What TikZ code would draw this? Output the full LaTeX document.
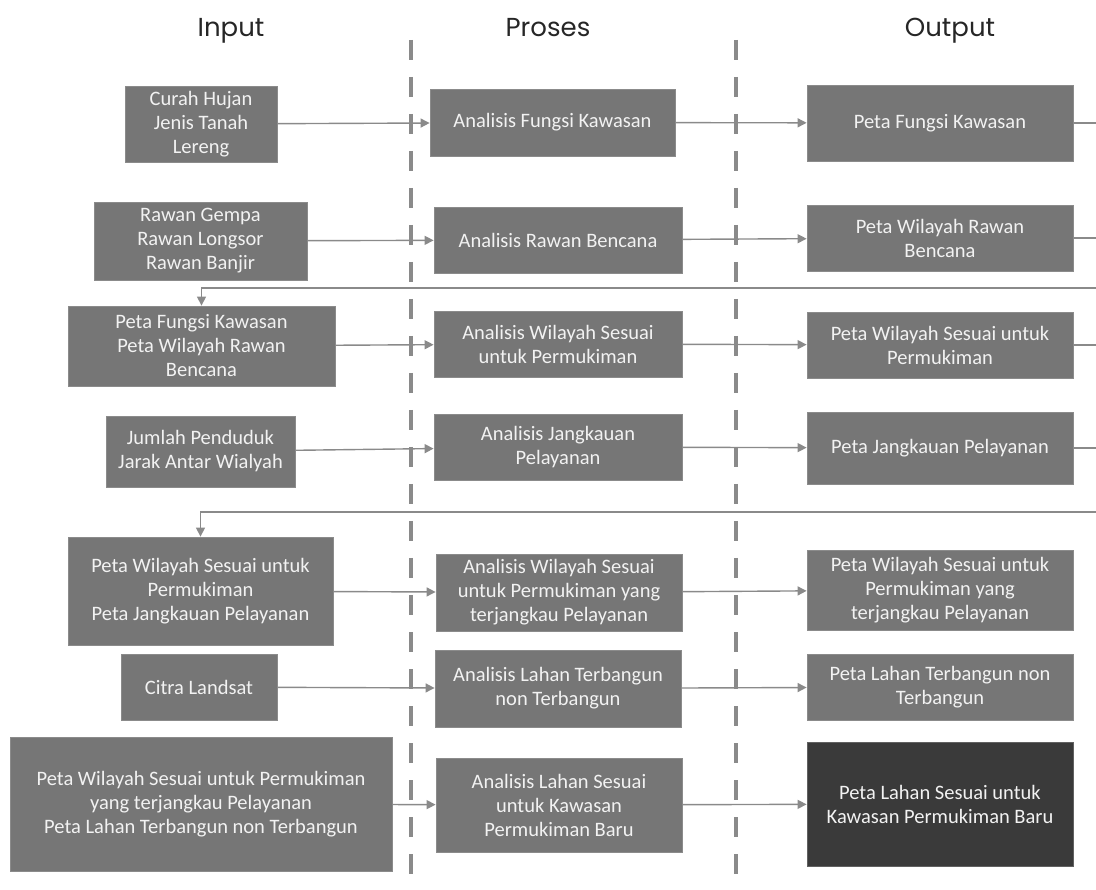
\documentclass[tikz,border=0pt]{standalone}
\usepackage{fontspec}
\setmainfont{Carlito}
\newfontfamily\headfont{Poppins}
\usetikzlibrary{arrows.meta}
\definecolor{boxgray}{RGB}{118,118,118}
\definecolor{boxdark}{RGB}{58,58,58}
\definecolor{linegray}{RGB}{138,138,138}
\definecolor{textwhite}{RGB}{242,242,242}
\tikzset{
  box/.style={fill=boxgray, draw=boxgray!85!white, line width=0.8pt, text=textwhite,
    align=center, inner sep=2pt, font=\fontsize{20.5}{24}\selectfont},
  darkbox/.style={box, fill=boxdark, draw=boxdark!80!white},
  flow/.style={draw=linegray, line width=1.4pt, -{Triangle[length=9pt,width=9pt]}},
  plain/.style={draw=linegray, line width=1.4pt},
  divider/.style={draw=linegray, line width=4pt, dash pattern=on 20pt off 17pt},
  head/.style={font=\headfont\fontsize{26}{30}\selectfont, text=black!85,
    text height=19pt, text depth=6pt}
}
\begin{document}
\begin{tikzpicture}[x=1pt,y=-1pt]
  \useasboundingbox (0,0) rectangle (1096,890);

  % column titles
  \node[head] (hin) at (231,30) {Input};
  \node[head] (hpro) at (548,30) {Proses};
  \node[head] (hout) at (950,30) {Output};

  % dashed separators
  \draw[divider] (411,40) -- (411,890);
  \draw[divider] (736,40) -- (736,890);

  % input column
  \node[box, minimum width=152pt, minimum height=76pt] (in1) at (201,124) {Curah Hujan\\Jenis Tanah\\Lereng};
  \node[box, minimum width=213pt, minimum height=78pt] (in2) at (200.5,241) {Rawan Gempa\\Rawan Longsor\\Rawan Banjir};
  \node[box, minimum width=267pt, minimum height=80pt] (in3) at (201.5,346) {Peta Fungsi Kawasan\\Peta Wilayah Rawan\\Bencana};
  \node[box, minimum width=189pt, minimum height=71pt] (in4) at (200.5,451.5) {Jumlah Penduduk\\Jarak Antar Wialyah};
  \node[box, minimum width=265pt, minimum height=108pt] (in5) at (200.5,591) {Peta Wilayah Sesuai untuk\\Permukiman\\Peta Jangkauan Pelayanan};
  \node[box, minimum width=156pt, minimum height=66pt] (in6) at (199,687) {Citra Landsat};
  \node[box, minimum width=382pt, minimum height=134pt] (in7) at (201,804) {Peta Wilayah Sesuai untuk Permukiman\\yang terjangkau Pelayanan\\Peta Lahan Terbangun non Terbangun};

  % process column
  \node[box, minimum width=245pt, minimum height=67pt] (pr1) at (552.5,122.5) {Analisis Fungsi Kawasan};
  \node[box, minimum width=248pt, minimum height=66pt] (pr2) at (558,240) {Analisis Rawan Bencana};
  \node[box, minimum width=248pt, minimum height=66pt] (pr3) at (558,344) {Analisis Wilayah Sesuai\\untuk Permukiman};
  \node[box, minimum width=248pt, minimum height=66pt] (pr4) at (558,447) {Analisis Jangkauan\\Pelayanan};
  \node[box, minimum width=246pt, minimum height=77pt] (pr5) at (559,592.5) {Analisis Wilayah Sesuai\\untuk Permukiman yang\\terjangkau Pelayanan};
  \node[box, minimum width=246pt, minimum height=77pt] (pr6) at (558,688.5) {Analisis Lahan Terbangun\\non Terbangun};
  \node[box, minimum width=246pt, minimum height=94pt] (pr7) at (559,805) {Analisis Lahan Sesuai\\untuk Kawasan\\Permukiman Baru};

  % output column
  \node[box, minimum width=266pt, minimum height=76pt] (out1) at (940,123) {Peta Fungsi Kawasan};
  \node[box, minimum width=266pt, minimum height=66pt] (out2) at (940,238) {Peta Wilayah Rawan\\Bencana};
  \node[box, minimum width=266pt, minimum height=66pt] (out3) at (940,345) {Peta Wilayah Sesuai untuk\\Permukiman};
  \node[box, minimum width=266pt, minimum height=72pt] (out4) at (940,448) {Peta Jangkauan Pelayanan};
  \node[box, minimum width=266pt, minimum height=80pt] (out5) at (940,590) {Peta Wilayah Sesuai untuk\\Permukiman yang\\terjangkau Pelayanan};
  \node[box, minimum width=266pt, minimum height=66pt] (out6) at (940,687) {Peta Lahan Terbangun non\\Terbangun};
  \node[darkbox, minimum width=266pt, minimum height=124pt] (out7) at (940,804) {Peta Lahan Sesuai untuk\\Kawasan Permukiman Baru};

  % loose ends at the right border
  \coordinate (r1) at (1096,123);
  \coordinate (r2) at (1096,238);
  \coordinate (r3) at (1096,345);
  \coordinate (r4) at (1096,448);
  \coordinate (back1) at (1096,288);
  \coordinate (back2) at (1096,512);

  % arrows
  \foreach \i in {1,...,7}{
    \draw[flow] (in\i) -- (pr\i);
    \draw[flow] (pr\i) -- (out\i);
  }
  \foreach \i in {1,...,4}
    \draw[plain] (out\i) -- (r\i);
  \draw[flow] (back1) -| (in3.north);
  \draw[flow] (back2) -| (in5.north);
\end{tikzpicture}
\end{document}
